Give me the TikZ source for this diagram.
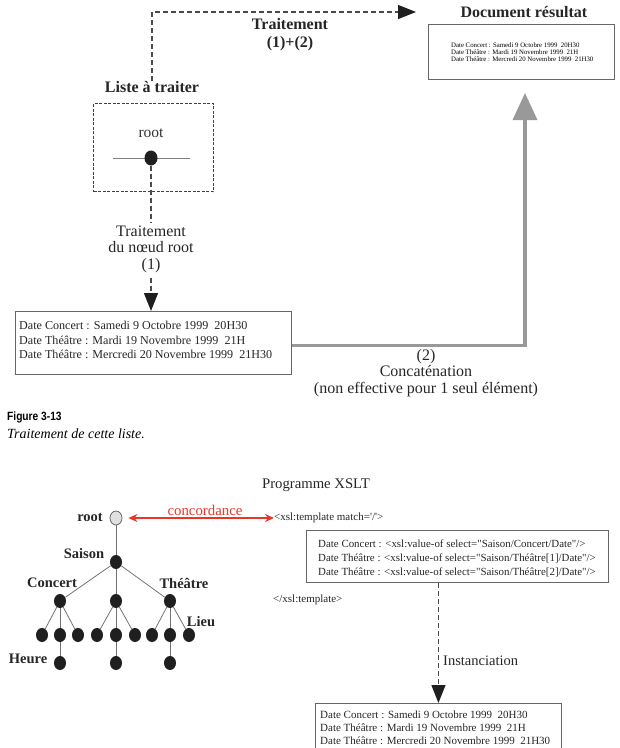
\documentclass[tikz,border=0pt]{standalone}
\usepackage{graphicx}
\usepackage{fontspec}
\setmainfont{Liberation Serif}
\newfontfamily\capfont{Liberation Sans}
\usetikzlibrary{arrows.meta,shapes.geometric}
\newcommand\fsz[2]{\fontsize{#1}{#2}\selectfont}
\definecolor{concred}{RGB}{232,55,40}
\begin{document}
\begin{tikzpicture}[x=1pt,y=-1pt,
  every node/.style={inner sep=0pt},
  boxline/.style={draw=black!60, line width=0.9pt},
  dashline/.style={draw=black!70, line width=1.1pt, dash pattern=on 5pt off 3pt},
  darktip/.style={-{Triangle[length=18pt,width=14pt,color=black!88]}},
  tdot/.style={ellipse, fill=black!88, minimum width=12pt, minimum height=14pt},
  tedge/.style={draw=black!55, line width=0.8pt},
  tlabel/.style={font=\bfseries\fsz{14.5}{16}, text=black!85},
  bighead/.style={font=\bfseries\fsz{16}{18}, text=black!85},
]
\useasboundingbox (0,0) rectangle (620,748);
\clip (0,0) rectangle (620,748);

% ---------- upper figure ----------
\node[bighead] (lat) at (152,87) {Liste à traiter};
\node[bighead] (docres) at (524,12) {Document résultat};
\node[bighead, align=center] (t12) at (290,35) {Traitement\\(1)+(2)};
\coordinate (ttip) at (416,12);
\draw[dashline, darktip] (lat.north) |- (ttip);

\node[boxline, minimum width=186pt, minimum height=55pt, anchor=north west] (res) at (428,24) {};
\node[anchor=west, align=left, font=\fsz{6.8}{7}] (restxt) at ([xshift=23pt]res.west)
  {Date Concert : Samedi 9 Octobre 1999\ \ 20H30\\Date Théâtre : Mardi 19 Novembre 1999\ \ 21H\\Date Théâtre : Mercredi 20 Novembre 1999\ \ 21H30};

\node[draw=black!75, line width=1.2pt, dash pattern=on 3pt off 1.5pt, minimum width=120pt, minimum height=88pt, anchor=north west] (lbox) at (93,103) {};
\node[font=\fsz{15.5}{17}, text=black!80] (rootlbl) at (151,133) {root};
\coordinate (gl) at (113,158);
\coordinate (gr) at (190,158);
\draw[draw=black!50, line width=1pt] (gl) -- (gr);
\node[tdot, minimum width=13pt, minimum height=15pt] (rdot) at (151,158) {};

\node[boxline, minimum width=276pt, minimum height=63pt, anchor=north west] (lst) at (15,311) {};
\node[anchor=west, align=left, font=\fsz{12.1}{14.5}, text=black!85] (lsttxt) at ([xshift=4pt,yshift=3pt]lst.west)
  {Date Concert : Samedi 9 Octobre 1999\ \ 20H30\\Date Théâtre : Mardi 19 Novembre 1999\ \ 21H\\Date Théâtre : Mercredi 20 Novembre 1999\ \ 21H30};

\draw[dashline, darktip] (rdot.south) -- (rdot.south |- lst.north);
\node[fill=white, align=center, font=\fsz{16}{16.5}, inner ysep=3pt, text=black!85] (t1) at (151,249) {Traitement\\du nœud root\\(1)};

\coordinate (gtip) at (525,93);
\draw[draw=black!40, line width=3.5pt, -{Triangle[length=27pt,width=24pt]}] ([yshift=-2.5pt]lst.east) -| (gtip);
\node[font=\fsz{16}{16.5}, align=center, text=black!85] (t2) at (426,373) {(2)\\Concaténation\\(non effective pour 1 seul élément)};

\node[anchor=west, font=\capfont\bfseries\fsz{12}{13}] (fig) at (7,417) {\scalebox{0.85}[1]{Figure 3-13}};
\node[anchor=west, font=\itshape\fsz{14}{16}] (cap) at (7,434) {Traitement de cette liste.};

% ---------- lower figure ----------
\node[font=\fsz{14.7}{16}, text=black!85] (prog) at (316,485) {Programme XSLT};
\node[tdot, fill=black!12, draw=black!60, line width=0.8pt] (troot) at (116,518) {};
\node[tlabel, anchor=east] (lroot) at (103,517) {root};
\node[anchor=west, font=\fsz{11}{13}, text=black!85] (tmatch) at (274,518) {<xsl:template match=\textquotesingle/\textquotesingle>};
\draw[concred, line width=1.2pt, {Stealth[length=9pt,width=8pt]}-{Stealth[length=9pt,width=8pt]}, shorten <=6pt] (troot.east) -- (tmatch.west);
\node[text=concred, font=\fsz{14.8}{16}] (conc) at (205,510) {concordance};

\node[boxline, minimum width=302pt, minimum height=52pt, anchor=north west] (tpl) at (306,530) {};
\node[anchor=west, align=left, font=\fsz{10.9}{14}, text=black!85] (tpltxt) at ([xshift=12pt,yshift=-1.5pt]tpl.west)
  {Date Concert : <xsl:value-of select=\textquotedbl Saison/Concert/Date\textquotedbl/>\\
   Date Théâtre : <xsl:value-of select=\textquotedbl Saison/Théâtre[1]/Date\textquotedbl/>\\
   Date Théâtre : <xsl:value-of select=\textquotedbl Saison/Théâtre[2]/Date\textquotedbl/>};
\node[anchor=west, font=\fsz{11}{13}, text=black!85] (tend) at (273,600) {</xsl:template>};

\node[boxline, minimum width=246pt, minimum height=70pt, anchor=north west] (out) at (315,703) {};
\node[anchor=west, align=left, font=\fsz{11}{13}, text=black!85] (outtxt) at (320,728)
  {Date Concert : Samedi 9 Octobre 1999\ \ 20H30\\Date Théâtre : Mardi 19 Novembre 1999\ \ 21H\\Date Théâtre : Mercredi 20 Novembre 1999\ \ 21H30};
\draw[dashline, darktip] (out.north |- tpl.south) -- (out.north);
\node[anchor=west, font=\fsz{14.5}{16}, text=black!85] (inst) at (443,661) {Instanciation};

% tree
\node[tdot] (sai) at (116,562) {};
\node[tdot] (con) at (60,601) {};
\node[tdot] (mid) at (116,601) {};
\node[tdot] (the) at (170,601) {};
\node[tdot] (c1) at (42,635) {};
\node[tdot] (c2) at (60,635) {};
\node[tdot] (c3) at (78,635) {};
\node[tdot] (m1) at (97,635) {};
\node[tdot] (m2) at (116,635) {};
\node[tdot] (m3) at (135,635) {};
\node[tdot] (h1) at (152,635) {};
\node[tdot] (h2) at (170,635) {};
\node[tdot] (h3) at (189,635) {};
\node[tdot] (g1) at (60,663) {};
\node[tdot] (g2) at (116,663) {};
\node[tdot] (g3) at (170,663) {};
\draw[tedge] (troot) -- (sai);
\draw[tedge] (sai) -- (con);
\draw[tedge] (sai) -- (mid);
\draw[tedge] (sai) -- (the);
\draw[tedge] (con) -- (c1);
\draw[tedge] (con) -- (c2);
\draw[tedge] (con) -- (c3);
\draw[tedge] (mid) -- (m1);
\draw[tedge] (mid) -- (m2);
\draw[tedge] (mid) -- (m3);
\draw[tedge] (the) -- (h1);
\draw[tedge] (the) -- (h2);
\draw[tedge] (the) -- (h3);
\draw[tedge] (c2) -- (g1);
\draw[tedge] (m2) -- (g2);
\draw[tedge] (h2) -- (g3);
\node[tlabel] (lsai) at (84,554) {Saison};
\node[tlabel] (lcon) at (52,583) {Concert};
\node[tlabel] (lthe) at (184,583) {Théâtre};
\node[tlabel] (llieu) at (201,622) {Lieu};
\node[tlabel] (lheure) at (28,659) {Heure};
\end{tikzpicture}
\end{document}
